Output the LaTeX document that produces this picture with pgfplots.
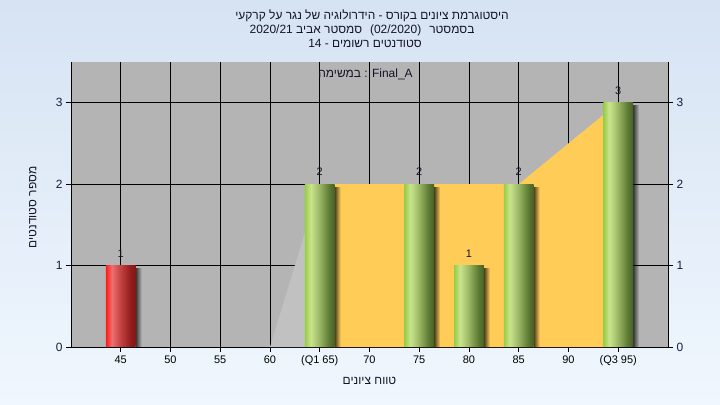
\documentclass[border=0pt]{standalone}
\usepackage{fontspec}
\setmainfont{Liberation Sans}
\newfontfamily\heb[Script=Hebrew]{Liberation Sans}
\TeXXeTstate=1
\usepackage{pgfplots}
\pgfplotsset{compat=1.18}
\usetikzlibrary{fadings}
\definecolor{bgtop}{RGB}{214,227,243}
\definecolor{bgbot}{RGB}{240,247,254}
\definecolor{plotbg}{RGB}{180,180,180}
\definecolor{yel}{RGB}{255,204,88}
\definecolor{lgray}{RGB}{193,193,193}
\definecolor{txt}{RGB}{20,20,40}
\definecolor{tickc}{RGB}{20,30,60}
\definecolor{gA}{RGB}{150,205,70}
\definecolor{gB}{RGB}{202,228,142}
\definecolor{gC}{RGB}{160,188,105}
\definecolor{gD}{RGB}{95,125,52}
\definecolor{gE}{RGB}{70,95,38}
\definecolor{rA}{RGB}{255,25,25}
\definecolor{rB}{RGB}{238,112,112}
\definecolor{rC}{RGB}{200,70,70}
\definecolor{rD}{RGB}{150,30,30}
\definecolor{rE}{RGB}{130,22,22}
\pgfdeclarehorizontalshading{greenbar}{100bp}{color(0bp)=(gA); color(25bp)=(gA); color(35bp)=(gB); color(48bp)=(gC); color(65bp)=(gD); color(75bp)=(gE); color(100bp)=(gE)}
\pgfdeclarehorizontalshading{redbar}{100bp}{color(0bp)=(rA); color(25bp)=(rA); color(35bp)=(rB); color(48bp)=(rC); color(65bp)=(rD); color(75bp)=(rE); color(100bp)=(rE)}
\pgfplotsset{
  barg/.style={ybar, bar width=3, bar shift=0, draw=none, shading=greenbar,
    nodes near coords, every node near coord/.append style={font=\fontsize{11}{12}\selectfont, text=txt, yshift=5bp}},
  shad/.style={ybar, bar width=0.6, bar shift=1.8, fill=black, draw=none, fill opacity=0.7, path fading=east},
}
\begin{document}
\begin{tikzpicture}
\useasboundingbox (0,0) rectangle (720bp,405bp);
\shade[top color=bgtop, bottom color=bgbot] (0,0) rectangle (720bp,405bp);
\begin{axis}[
  at={(71bp,58bp)}, anchor=south west,
  scale only axis, width=597bp, height=285bp,
  xmin=40, xmax=100, ymin=0, ymax=3.5,
  xtick={45,50,55,60,65,70,75,80,85,90,95},
  xticklabels={45,50,55,60,(Q1 65),70,75,80,85,90,(Q3 95)},
  ytick={0,1,2,3},
  axis x line*=bottom, axis y line*=left,
  axis line style={black, line width=0.8pt},
  tick align=outside, major tick length=5bp,
  tick style={black, line width=0.8pt},
  grid=major, major grid style={black, line width=0.8pt},
  axis background/.style={fill=plotbg},
  /pgf/number format/assume math mode=true,
  xticklabel style={font=\fontsize{11}{12}\selectfont, text=black},
  yticklabel style={font=\fontsize{12}{13}\selectfont, text=tickc},
  xlabel={\heb ציונים טווח},
  xlabel style={at={(axis description cs:0.5,-0.119)}, anchor=center, font=\fontsize{12}{13}\selectfont, text=txt},
  ylabel={\heb\beginR מספר סטודנטים\endR},
  ylabel style={at={(axis description cs:-0.064,0.49)}, anchor=center, rotate=0, font=\fontsize{12}{13}\selectfont, text=txt},
  clip=false,
]
\addplot[fill=lgray, draw=none] coordinates {(60,0) (65,2)} \closedcycle;
\addplot[fill=yel, draw=none] coordinates {(65,2) (70,2) (75,2) (80,2) (85,2) (95,3)} \closedcycle;
% shadows
\addplot[shad] coordinates {(45,0.97)};
\addplot[shad] coordinates {(65,1.97)};
\addplot[shad] coordinates {(75,1.97)};
\addplot[shad] coordinates {(80,0.97)};
\addplot[shad] coordinates {(85,1.97)};
\addplot[shad] coordinates {(95,2.97)};
% bars
\addplot[ybar, bar width=3, bar shift=0, draw=none, shading=redbar,
  nodes near coords, every node near coord/.append style={font=\fontsize{11}{12}\selectfont, text=txt, yshift=5bp}] coordinates {(45,1)};
\addplot[barg] coordinates {(65,2)};
\addplot[barg] coordinates {(75,2)};
\addplot[barg] coordinates {(80,1)};
\addplot[barg] coordinates {(85,2)};
\addplot[barg] coordinates {(95,3)};
\node[font=\heb\fontsize{12}{13}\selectfont, text=txt] at (axis cs:69.6,3.35) {במשימה : Final\_A};
\end{axis}
\begin{axis}[
  at={(71bp,58bp)}, anchor=south west,
  scale only axis, width=597bp, height=285bp,
  xmin=40, xmax=100, ymin=0, ymax=3.5,
  ytick={0,1,2,3},
  axis y line*=right, axis x line=none,
  axis line style={black, line width=0.8pt},
  tick align=outside, major tick length=5bp,
  tick style={black, line width=0.8pt},
  /pgf/number format/assume math mode=true,
  yticklabel style={font=\fontsize{12}{13}\selectfont, text=tickc},
]
\end{axis}
\node[font=\heb\fontsize{12}{13}\selectfont, text=txt] at (372bp,389bp) {קרקעי על נגר של הידרולוגיה - בקורס ציונים היסטוגרמת};
\node[font=\heb\fontsize{12}{13}\selectfont, text=txt] at (362bp,375bp) {2020/21 אביב סמסטר\hspace{8bp}(02/2020)\hspace{8bp}בסמסטר};
\node[font=\heb\fontsize{12}{13}\selectfont, text=txt] at (365bp,362bp) {14 - רשומים סטודנטים};
\end{tikzpicture}
\end{document}
